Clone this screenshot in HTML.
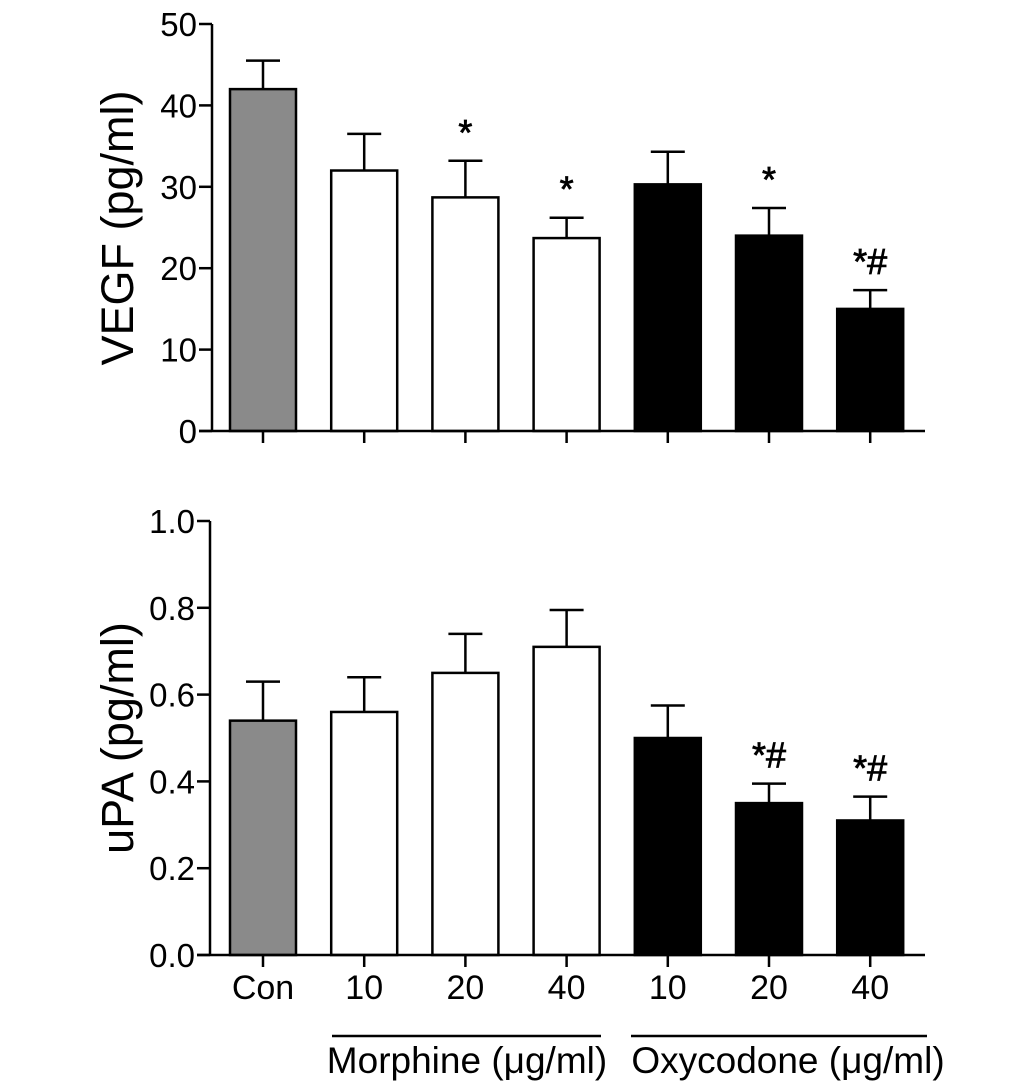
<!DOCTYPE html>
<html><head><meta charset="utf-8"><style>
html,body{margin:0;padding:0;background:#fff;}
svg{display:block;font-family:"Liberation Sans",Arial,sans-serif;}
</style></head><body>
<svg id="c" width="1033" height="1090" viewBox="0 0 1033 1090" xmlns="http://www.w3.org/2000/svg"></svg>
<script>
const categories = ["Con","10","20","40","10","20","40"];
const vegfValues = [42, 32, 28.7, 23.7, 30.3, 24, 15];
const vegfErrors = [3.5, 4.5, 4.5, 2.5, 4.0, 3.4, 2.3];
const vegfMarks = ["", "", "*", "*", "", "*", "*#"];
const upaValues = [0.54, 0.56, 0.65, 0.71, 0.50, 0.35, 0.31];
const upaErrors = [0.09, 0.08, 0.09, 0.085, 0.075, 0.045, 0.055];
const upaMarks = ["", "", "", "", "", "*#", "*#"];
const vegfTicks = [0, 10, 20, 30, 40, 50];
const upaTicks = [0.0, 0.2, 0.4, 0.6, 0.8, 1.0];
const fills = ["#8a8a8a","#fff","#fff","#fff","#000","#000","#000"];

const svg = document.getElementById('c');
const NS = "http://www.w3.org/2000/svg";
function mk(tag, attrs, parent){ const e=document.createElementNS(NS,tag); for(const k in attrs) e.setAttribute(k,attrs[k]); (parent||svg).appendChild(e); return e; }
const xPos = i => 263 + i*101.2;
const BW = 66;

function panel(name, vals, errs, marks, ticks, y0, y1, vmax, axisX, title, titleY, dec, showLabels){
  const g = mk('g', {});
  
  
  const y = v => y0 - (v/vmax)*(y0-y1);
  vals.forEach((v,i)=>{
    const b = mk('rect', {x:xPos(i)-BW/2, y:y(v), width:BW, height:y0-y(v), fill:fills[i], stroke:'#000','stroke-width':2.5}, g);
    
    
    const et = y(v+errs[i]);
    const e = mk('path', {d:`M${xPos(i)},${y(v)} V${et} M${xPos(i)-17},${et} H${xPos(i)+17}`, stroke:'#000','stroke-width':2.5, fill:'none'}, g);
    
    
    if(marks[i]){
      const t = mk('text', {x:xPos(i), y:et-16, 'text-anchor':'middle','font-size':36, 'stroke':'#000','stroke-width':0.8}, g);
      t.textContent = marks[i];
      
      
    }
    const tk = mk('line', {x1:xPos(i), x2:xPos(i), y1:y0, y2:y0+12, stroke:'#000','stroke-width':2.5}, g);
    
    
    if(showLabels){
      const l = mk('text', {x:xPos(i), y:y0+44, 'text-anchor':'middle','font-size':34}, g);
      l.textContent = categories[i];
      
      
    }
  });
  const ax = mk('path', {d:`M${axisX},${y1} V${y0} M${axisX-13},${y0} H925`, stroke:'#000','stroke-width':2.5, fill:'none'}, g);
  
  
  ticks.forEach(tv=>{
    const tl = mk('line', {x1:axisX-13, x2:axisX, y1:y(tv), y2:y(tv), stroke:'#000','stroke-width':2.5}, g);
    
    
    const tt = mk('text', {x:axisX-15, y:y(tv)+12, 'text-anchor':'end','font-size':33}, g);
    tt.textContent = tv.toFixed(dec);
    
    
  });
  const ti = mk('text', {x:0, y:0, 'text-anchor':'middle','font-size':45, transform:`translate(133,${titleY}) rotate(-90)`}, g);
  ti.textContent = title;
  
  
}
panel('vegf', vegfValues, vegfErrors, vegfMarks, vegfTicks, 431, 24, 50, 212, 'VEGF (pg/ml)', 228, 0, false);
panel('upa', upaValues, upaErrors, upaMarks, upaTicks, 955, 521, 1.0, 210, 'uPA (pg/ml)', 738, 1, true);

const u1 = mk('line', {x1:332, x2:601, y1:1036, y2:1036, stroke:'#000','stroke-width':2.5});


const u2 = mk('line', {x1:631, x2:927, y1:1036, y2:1036, stroke:'#000','stroke-width':2.5});


const m = mk('text', {x:467, y:1073, 'text-anchor':'middle','font-size':37});
m.textContent = 'Morphine (μg/ml)';


const o = mk('text', {x:788, y:1073, 'text-anchor':'middle','font-size':37});
o.textContent = 'Oxycodone (μg/ml)';


</script>
</body></html>
